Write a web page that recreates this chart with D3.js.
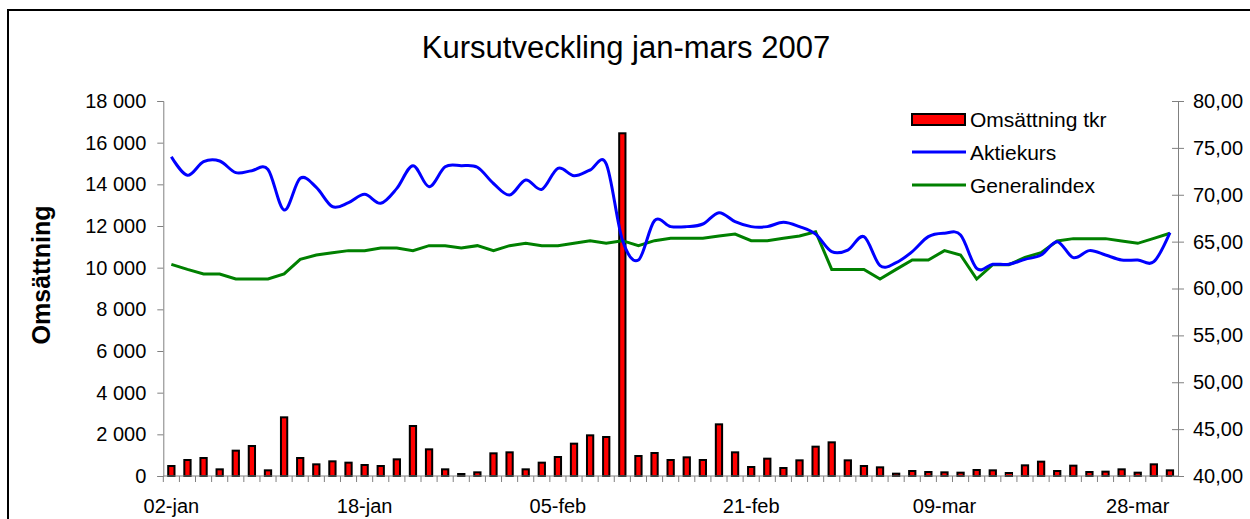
<!DOCTYPE html>
<html>
<head>
<meta charset="utf-8">
<script src="https://cdn.jsdelivr.net/npm/d3@7"></script>
<style>
	body { margin: 0; background: #fff; }
	svg { display: block; font-family: Arial, "Liberation Sans", sans-serif; }
</style>
</head>
<body>
<svg id="chart" width="1250" height="519"></svg>
<script>
var dates = [
	"02-jan","03-jan","04-jan","05-jan","08-jan","09-jan","10-jan","11-jan","12-jan","15-jan","16-jan",
	"17-jan","18-jan","19-jan","22-jan","23-jan","24-jan","25-jan","26-jan","29-jan","30-jan","31-jan",
	"01-feb","02-feb","05-feb","06-feb","07-feb","08-feb","09-feb","12-feb","13-feb","14-feb","15-feb",
	"16-feb","19-feb","20-feb","21-feb","22-feb","23-feb","26-feb","27-feb","28-feb",
	"01-mar","02-mar","05-mar","06-mar","07-mar","08-mar","09-mar","12-mar","13-mar","14-mar","15-mar",
	"16-mar","19-mar","21-mar","22-mar","23-mar","26-mar","27-mar","28-mar","29-mar","30-mar"
];
var labelDates = ["02-jan", "18-jan", "05-feb", "21-feb", "09-mar", "28-mar"];

// Omsättning tkr
var omsattning = [
	480, 768, 864, 320, 1216, 1440, 272, 2816, 864, 560,
	704, 640, 528, 480, 800, 2400, 1280, 320, 96, 176,
	1088, 1136, 320, 640, 912, 1552, 1952, 1872, 16450, 960,
	1104, 768, 896, 768, 2480, 1136, 432, 832, 384, 752,
	1408, 1616, 752, 480, 416, 112, 240, 192, 176, 160,
	288, 272, 144, 512, 688, 240, 496, 192, 208, 320,
	160, 560, 272
];
var aktiekurs = [
	74.06, 72.07, 73.53, 73.60, 72.36, 72.57, 72.70, 68.37, 71.75, 70.79,
	68.73, 69.16, 70.05, 69.09, 70.68, 73.10, 70.86, 72.99, 73.10, 72.93,
	71.20, 69.97, 71.57, 70.58, 72.82, 72.03, 72.64, 73.30, 65.20, 63.04,
	67.24, 66.60, 66.60, 66.88, 68.09, 67.13, 66.60, 66.60, 67.06, 66.60,
	65.80, 63.93, 64.10, 65.53, 62.44, 62.76, 63.93, 65.53, 65.89, 65.70,
	62.15, 62.58, 62.58, 63.11, 63.57, 64.99, 63.29, 64.04, 63.57, 63.04,
	63.04, 62.86, 65.96
];
var generalindex = [
	62.58, 62.04, 61.55, 61.55, 61.01, 61.01, 61.01, 61.55, 63.11, 63.57,
	63.82, 64.04, 64.04, 64.32, 64.32, 64.04, 64.57, 64.57, 64.32, 64.57,
	64.04, 64.57, 64.82, 64.57, 64.57, 64.82, 65.10, 64.82, 65.10, 64.57,
	65.10, 65.35, 65.35, 65.35, 65.60, 65.81, 65.10, 65.10, 65.35, 65.60,
	66.06, 62.04, 62.04, 62.04, 61.01, 62.04, 63.04, 63.04, 64.04, 63.57,
	61.01, 62.54, 62.54, 63.32, 63.82, 65.07, 65.32, 65.32, 65.32, 65.07,
	64.82, 65.35, 65.89
];
var leftTicks = [0, 2000, 4000, 6000, 8000, 10000, 12000, 14000, 16000, 18000];
var rightTicks = [40, 45, 50, 55, 60, 65, 70, 75, 80];

(function() {
	var svLocale = d3.formatLocale({decimal: ",", thousands: " ", grouping: [3], currency: ["", ""]});
	var fmtLeft = svLocale.format(",d");
	var fmtRight = svLocale.format(".2f");

	var svg = d3.select("#chart");
	var plotLeft = 163.3, plotRight = 1178, plotTop = 101, plotBottom = 476;
	var axisColor = "#808080";

	// chart frame
	svg.append("rect")
		.attr("x", 8).attr("y", 10)
		.attr("width", 1260).attr("height", 520)
		.attr("fill", "#fff")
		.attr("stroke", "#000")
		.attr("stroke-width", 2);

	svg.append("text")
		.attr("x", 626).attr("y", 58)
		.attr("text-anchor", "middle")
		.attr("font-size", 31)
		.text("Kursutveckling jan-mars 2007");

	var x = d3.scaleBand().domain(dates).range([plotLeft, plotRight]).padding(0);
	var yL = d3.scaleLinear().domain([0, 18000]).range([plotBottom, plotTop]);
	var yR = d3.scaleLinear().domain([40, 80]).range([plotBottom, plotTop]);
	var cx = function(d, i) { return x(dates[i]) + x.bandwidth() / 2; };

	// bars
	var barW = x.bandwidth() * 0.39;
	svg.append("g").selectAll("rect")
		.data(omsattning)
		.enter().append("rect")
			.attr("x", function(d, i) { return cx(d, i) - barW / 2; })
			.attr("y", function(d) { return yL(d); })
			.attr("width", barW)
			.attr("height", function(d) { return yL(0) - yL(d); })
			.attr("fill", "#ff0000")
			.attr("stroke", "#000")
			.attr("stroke-width", 2);

	// lines
	var kursLine = d3.line()
		.x(function(d, i) { return cx(d, i); })
		.y(function(d) { return yR(d); })
		.curve(d3.curveCatmullRom.alpha(0));
	var indexLine = d3.line()
		.x(function(d, i) { return cx(d, i); })
		.y(function(d) { return yR(d); });

	svg.append("path")
		.datum(generalindex)
		.attr("d", indexLine)
		.attr("fill", "none")
		.attr("stroke", "#008000")
		.attr("stroke-width", 3);
	svg.append("path")
		.datum(aktiekurs)
		.attr("d", kursLine)
		.attr("fill", "none")
		.attr("stroke", "#0000ff")
		.attr("stroke-width", 3);

	// left axis
	var gL = svg.append("g")
		.attr("transform", "translate(" + plotLeft + ",0)")
		.call(d3.axisLeft(yL).tickValues(leftTicks).tickFormat(fmtLeft).tickSize(6).tickPadding(11));
	// right axis
	var gR = svg.append("g")
		.attr("transform", "translate(" + plotRight + ",0)")
		.call(d3.axisRight(yR).tickValues(rightTicks).tickFormat(fmtRight).tickSize(6).tickPadding(9));
	gR.selectAll(".tick line").attr("x1", -6);

	// bottom axis: ticks between categories, labels every 12th day
	var gB = svg.append("g")
		.attr("transform", "translate(0," + plotBottom + ")");
	gB.append("line")
		.attr("x1", plotLeft).attr("x2", plotRight)
		.attr("stroke", axisColor);
	gB.selectAll("line.cat")
		.data(dates)
		.enter().append("line")
			.attr("class", "cat")
			.attr("x1", function(d) { return x(d); })
			.attr("x2", function(d) { return x(d); })
			.attr("y2", 6)
			.attr("stroke", axisColor);
	gB.selectAll("text")
		.data(labelDates)
		.enter().append("text")
			.attr("x", function(d) { return x(d) + x.bandwidth() / 2; })
			.attr("y", 37)
			.attr("text-anchor", "middle")
			.attr("font-size", 20)
			.text(function(d) { return d; });

	[gL, gR].forEach(function(g) {
		g.select(".domain").attr("stroke", axisColor);
		g.selectAll(".tick line").attr("stroke", axisColor);
		g.selectAll("text")
			.attr("font-size", 20)
			.attr("font-family", "Arial, 'Liberation Sans', sans-serif")
			.attr("fill", "#000");
	});

	svg.append("text")
		.attr("transform", "translate(50,275) rotate(-90)")
		.attr("text-anchor", "middle")
		.attr("font-size", 25)
		.attr("font-weight", "bold")
		.text("Omsättning");

	// legend
	var legend = svg.append("g").attr("transform", "translate(912,0)");
	legend.append("rect")
		.attr("x", 0).attr("y", 114)
		.attr("width", 53).attr("height", 11)
		.attr("fill", "#ff0000")
		.attr("stroke", "#000")
		.attr("stroke-width", 2);
	legend.append("line")
		.attr("x1", 0).attr("x2", 54)
		.attr("y1", 152).attr("y2", 152)
		.attr("stroke", "#0000ff").attr("stroke-width", 3);
	legend.append("line")
		.attr("x1", 0).attr("x2", 54)
		.attr("y1", 185).attr("y2", 185)
		.attr("stroke", "#008000").attr("stroke-width", 3);
	legend.selectAll("text")
		.data(["Omsättning tkr", "Aktiekurs", "Generalindex"])
		.enter().append("text")
			.attr("x", 58)
			.attr("y", function(d, i) { return 127 + i * 33; })
			.attr("font-size", 21)
			.text(function(d) { return d; });
})();
</script>
</body>
</html>
